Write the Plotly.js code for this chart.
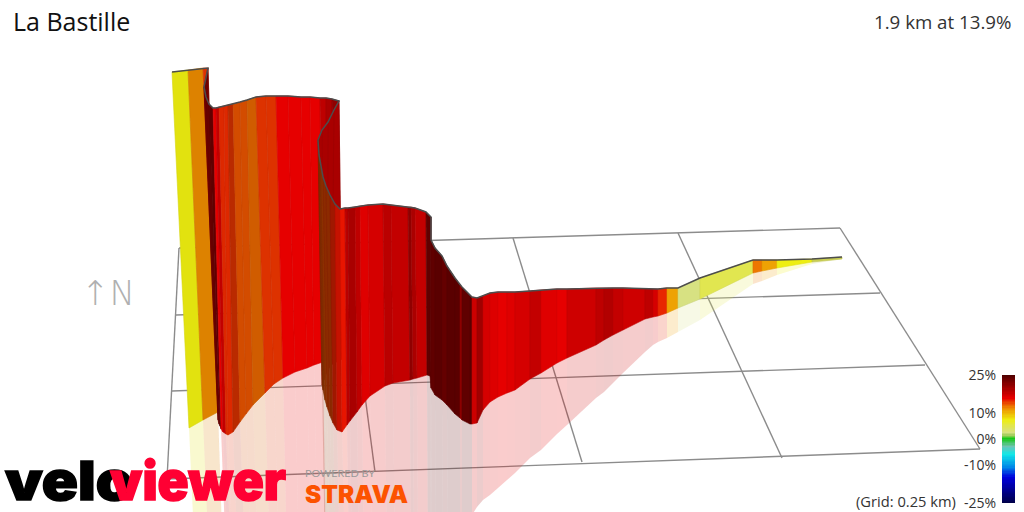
<!DOCTYPE html>
<html><head><meta charset="utf-8">
<script src="https://cdn.plot.ly/plotly-3.0.1.min.js"></script>
<style>html,body{margin:0;padding:0;background:#fff}#c{width:1024px;height:512px}</style>
</head><body><div id="c"></div>
<script>
// Ribbon samples, in route order
var topX =[172,188,203,208,204,206,209,213,216,219,224,228,233,240,247,256,266,276,288,301,310,320,326,332,339,334,328,322,318,319,321,323,326,330,335,340,345,348,355,360,368,383,391,408,411,415,426,431,431,435,442,447,455,460,462,470,472,477,483,490,498,507,515,530,541,557,567,596,604,613,623,645,653,658,667,678,700,753,762,777,812,842];
var topY =[72,70,68,68,87,97,104,108,108,107,106,105,104,102,100,97,96,96,96,97,97,98,98,99,101,110,122,130,140,155,168,177,186,195,204,209,208,208,207,206,205,204,205,207,207,208,212,217,240,248,256,266,278,285,287,295,297,298,296,293,292,292,292,291,290,289,289,288,288,288,288,289,289,289,288,288,278,260,260,260,259,257];
var baseX=[189,203,218,218,218,219,220,221,223,226,228,233,240,246,253,265,274,283,295,307,314,323,326,335,342,331,327,324,322,323,325,327,330,333,337,342,347,350,357,362,370,385,393,410,413,417,427,430,431,435,442,447,455,460,462,470,472,477,483,490,498,507,515,530,541,557,567,596,604,613,623,645,653,658,667,678,700,753,762,777,812,842];
var baseY=[428,420,412,414,420,424,426,429,432,434,435,432,422,414,405,393,384,378,372,368,365,362,361,360,359,365,372,380,385,390,400,407,416,423,430,432,425,421,412,405,396,386,383,380,379,378,375,376,388,395,400,405,414,418,420,424,424,423,410,402,397,393,390,379,373,363,358,345,340,335,330,319,317,316,313,308,299,273,271,268,262,259];
var mirrorX=[195,209,223,223,223,224,225,226,228,231,233,238,245,251,258,270,279,287,299,311,318,326,329,333,337,334,330,327,325,326,328,330,333,336,340,345,349,352,359,364,372,387,395,411,414,418,428,431,432,436,443,448,455,460,462,470,472,477,483,490,498,507,515,530,541,557,567,596,604,613,623,645,653,658,667,678,700,753,762,777,812,842];
var mirrorY=[560,560,560,560,560,560,560,560,560,560,560,560,560,560,560,560,560,560,560,560,560,560,560,560,560,560,560,560,560,560,560,560,560,560,560,560,560,560,560,560,560,560,560,560,560,560,560,560,560,560,560,560,560,555,545,530,515,507,500,495,488,480,473,458,450,434,425,398,392,383,373,352,345,342,338,332,320,284,281,275,264,259];
// Gradient (%) and side lighting of each slab between two samples
var gradePct=[7.5,12,14.5,23,23,23.5,24,16,18,14.8,14.8,14.5,13.6,13.6,13,14.5,14.5,16,16,16,16,18.3,19.4,21,19.5,19.5,19.5,19.5,13.6,13.6,13.6,14,14,15,15.4,15.4,18.5,19.5,18.3,16.4,17,18.5,18,21,19.4,18,24,24,24,24.4,23.75,24.4,24.4,21,24,24.4,17.5,20,17,16.5,16,16.4,17,18,16.4,16,17.4,18.3,19,18,17.4,18.3,17,14.9,11,2.5,5,12.6,11,7.5,4.5];
var lighting=[.95,.93,.95,1,1,1,1,1,1,.95,.95,.8,.9,.9,.88,.95,.95,1,1,1,1,1,1,1,1,1,1,1,.55,.55,.6,.6,.6,.69,.85,1,1,1,1,1,1,1,1,1,1,1,1,1,1,1,1,1,1,1,1,1,1,1,1,1,1,1,1,1,1,1,1,1,1,1,1,1,1,1,1,1,1,1,1,1,.9];
// Slabs whose reflection is hidden behind a nearer slab at a hairpin
var hiddenReflections=[3,4,5,6,21,22,23,24,25,26,27];
// Ground grid, 0.25 km squares
var gridX=[179,840,null,176,880,null,172,925,null,167,980,null,179,167,null,345,375,null,513,582,null,678,782,null,840,980];
var gridY=[248,228,null,315,293,null,391,365,null,479,449,null,248,479,null,243,472,null,238,462,null,233,458,null,228,449];
// Gradient legend
var legendStops=[-25,-15,-11,-6,-3,0,1.5,2.5,5,7.5,12,16,20,25];
var legendR=[0,0,0,16,112,24,168,215,225,238,238,230,160,80];
var legendG=[0,0,136,232,196,200,208,225,230,238,140,0,0,0];
var legendB=[74,220,232,232,180,24,96,130,80,16,0,0,0,0];
var legendTicks=[25,10,0,-10,-25];
var legendLabels=['25%','10%','0%','-10%','-25%'];

function gradeRGB(g){
  var i=0; while(i<legendStops.length-2 && g>legendStops[i+1]) i++;
  var t=(g-legendStops[i])/(legendStops[i+1]-legendStops[i]);
  return [legendR,legendG,legendB].map(function(a){return a[i]+(a[i+1]-a[i])*t;});
}
function css(c,s,a){return 'rgba('+Math.round(c[0]*s)+','+Math.round(c[1]*s)+','+Math.round(c[2]*s)+','+a+')';}

var traces=[];
traces.push({x:gridX,y:gridY,mode:'lines',line:{color:'#8c8c8c',width:1.4},connectgaps:false,hoverinfo:'skip'});
gradePct.forEach(function(g,i){
  if(hiddenReflections.indexOf(i)>=0) return;
  var c=gradeRGB(g);
  traces.push({x:[baseX[i],baseX[i+1],mirrorX[i+1],mirrorX[i],baseX[i]],y:[baseY[i],baseY[i+1],mirrorY[i+1],mirrorY[i],baseY[i]],
    mode:'none',fill:'toself',fillcolor:css(c,lighting[i],.2),hoverinfo:'skip'});
});
gradePct.forEach(function(g,i){
  var c=gradeRGB(g),col=css(c,lighting[i],1);
  traces.push({x:[topX[i],topX[i+1],baseX[i+1],baseX[i],topX[i]],y:[topY[i],topY[i+1],baseY[i+1],baseY[i],topY[i]],
    mode:'lines',line:{color:css(c,lighting[i]*.94,1),width:.6},fill:'toself',fillcolor:col,hoverinfo:'skip'});
});
traces.push({x:topX,y:topY,mode:'lines',line:{color:'#4d4d4d',width:1.5},hoverinfo:'skip'});

var scaleY=[],scaleZ=[];
for(var v=-25;v<=25;v+=.5){scaleY.push(v);scaleZ.push([v]);}
traces.push({type:'heatmap',xaxis:'x2',yaxis:'y2',x:[0],y:scaleY,z:scaleZ,zmin:-25,zmax:25,showscale:false,hoverinfo:'skip',
  colorscale:legendStops.map(function(s,i){return [(s+25)/50,'rgb('+legendR[i]+','+legendG[i]+','+legendB[i]+')'];})});

var F='"Open Sans", sans-serif';
var layout={width:1024,height:512,margin:{l:0,r:0,t:0,b:0},paper_bgcolor:'#fff',plot_bgcolor:'rgba(0,0,0,0)',showlegend:false,hovermode:false,
  title:{text:'La Bastille',x:13/1024,xanchor:'left',xref:'paper',y:1-22/512,yanchor:'middle',yref:'paper',font:{family:F,size:25,color:'#111'}},
  xaxis:{range:[0,1024],domain:[0,1],visible:false,fixedrange:true},
  yaxis:{range:[512,0],domain:[0,1],visible:false,fixedrange:true},
  xaxis2:{domain:[1002/1024,1015/1024],anchor:'y2',visible:false,fixedrange:true},
  yaxis2:{domain:[9/512,137/512],range:[-25,25],anchor:'x2',side:'left',showgrid:false,zeroline:false,showline:false,
    tickmode:'array',tickvals:legendTicks,ticktext:legendLabels,ticks:'outside',ticklen:2,tickcolor:'rgba(0,0,0,0)',tickfont:{family:F,size:14,color:'#333'},fixedrange:true},
  annotations:[
   {text:'1.9 km at 13.9%',xref:'x',yref:'y',x:1012.5,y:21,xanchor:'right',yanchor:'middle',showarrow:false,font:{family:F,size:18.7,color:'#333'}},
   {text:'(Grid: 0.25 km)',xref:'x',yref:'y',x:958,y:501,xanchor:'right',yanchor:'middle',showarrow:false,font:{family:F,size:14.7,color:'#333'}},
   {text:'↑N',xref:'x',yref:'y',x:81,y:293,xanchor:'left',yanchor:'middle',showarrow:false,font:{family:'"DejaVu Sans Light","DejaVu Sans"',size:34,color:'#b0b0b0'}},
   {text:'velo',xref:'x',yref:'y',x:5,y:480,xanchor:'left',yanchor:'middle',showarrow:false,font:{family:'Inter',size:54,weight:900,color:'#000'}},
   {text:'viewer',xref:'x',yref:'y',x:110,y:480,xanchor:'left',yanchor:'middle',showarrow:false,font:{family:'Inter',size:54,weight:900,color:'#ff0033'}},
   {text:'POWERED BY',xref:'x',yref:'y',x:305,y:473,xanchor:'left',yanchor:'middle',showarrow:false,font:{family:'Lato',size:9,color:'#999'}},
   {text:'STRAVA',xref:'x',yref:'y',x:305,y:494,xanchor:'left',yanchor:'middle',showarrow:false,font:{family:'Inter',size:24,weight:900,color:'#fc5200'}}
  ]};
Plotly.newPlot('c',traces,layout,{displayModeBar:false,staticPlot:true}).then(function(){
  var fit={velo:[5,128,1.5],viewer:[110,176,1.5],STRAVA:[305,103,0],'POWERED BY':[305,70,0],'↑N':[81,54,0]};
  document.querySelectorAll('.annotation-text').forEach(function(t){
    var f=fit[t.textContent];
    if(!f) return;
    t.setAttribute('textLength',f[1]);t.setAttribute('lengthAdjust','spacingAndGlyphs');
    var r=t.getBoundingClientRect();
    t.setAttribute('x',parseFloat(t.getAttribute('x'))+f[0]-r.left);
    if(f[2]){t.style.stroke=getComputedStyle(t).fill;t.style.strokeWidth=f[2]+'px';}
  });
});
</script></body></html>
